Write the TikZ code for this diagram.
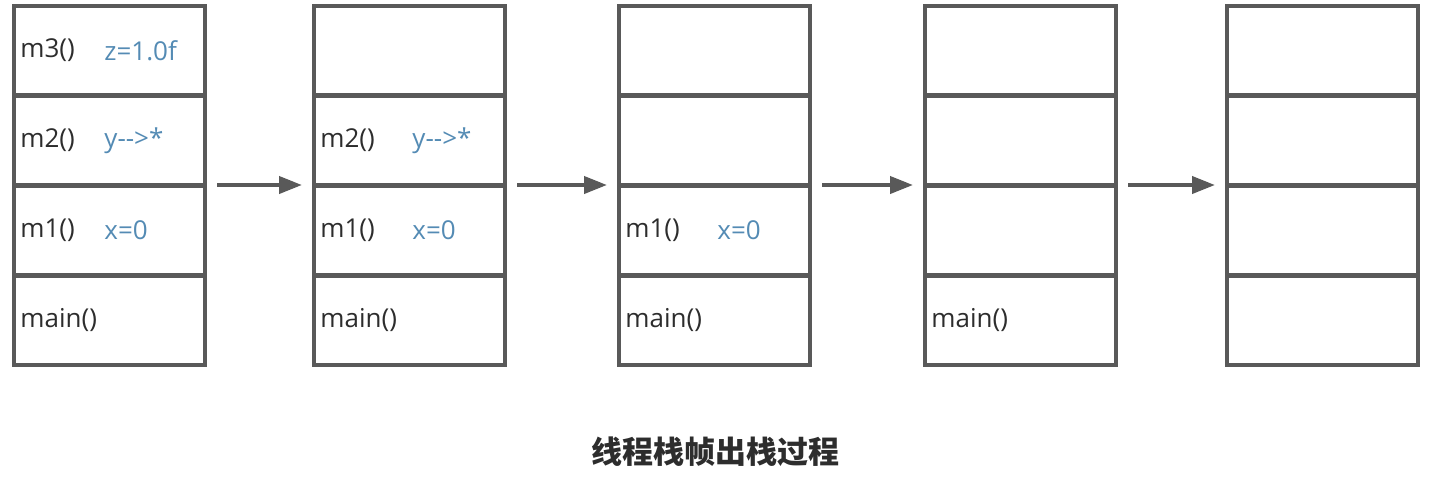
\documentclass[tikz,border=0pt]{standalone}
\usepackage{fontspec}
\setmainfont{Open Sans}
\newfontfamily\cjk{Noto Sans CJK SC}
\usetikzlibrary{arrows.meta,positioning}
\definecolor{frame}{RGB}{89,89,89}
\definecolor{steel}{RGB}{84,139,180}
\definecolor{ink}{RGB}{45,45,45}

\begin{document}
\begin{tikzpicture}[x=0.5pt,y=-0.5pt,
    slot/.style={draw=frame,line width=2pt,minimum width=95.5pt,minimum height=44.5pt,
      inner sep=0pt,outer sep=0pt,anchor=north west},
    fname/.style={anchor=west,inner sep=0pt,font=\fontsize{13}{15}\selectfont,text=ink},
    fvar/.style={anchor=west,inner sep=0pt,font=\fontsize{13}{15}\selectfont,text=steel},
    pop/.style={-{Triangle[length=11.5pt,width=8.5pt]},line width=2pt,draw=frame,
      shorten <=6pt,shorten >=6pt}]
  \useasboundingbox (0,0) rectangle (1436,499);
  % five snapshots of the stack, four frames each
  \foreach \x [count=\s] in {14,314,619,925,1227}
    \foreach \y [count=\r] in {6,96,186,276}
      \node[slot] (s\s r\r) at (\x,\y) {};
  % method names and locals
  \foreach \s/\r/\f in {1/1/m3(),1/2/m2(),1/3/m1(),1/4/main(),
      2/2/m2(),2/3/m1(),2/4/main(),3/3/m1(),3/4/main(),4/4/main()}
    \node[fname] (n\s\r) at ([xshift=3pt]s\s r\r.west) {\f};
  \foreach \s/\r/\v/\dx in {1/1/z=1.0f/45,1/2/y-{}->*/45,1/3/x=0/45,
      2/2/y-{}->*/49,2/3/x=0/49,3/3/x=0/49}
    \node[fvar] (v\s\r) at ([xshift=\dx pt]s\s r\r.west) {\v};
  % arrows between snapshots
  \foreach \a [count=\b from 2] in {1,...,4}
    \draw[pop] (s\a r2.south east) -- (s\b r2.south west);
  \node[font=\cjk\bfseries\fontsize{15.5}{18}\selectfont,text=ink] (title) at (715,452) {线程栈帧出栈过程};
\end{tikzpicture}
\end{document}
